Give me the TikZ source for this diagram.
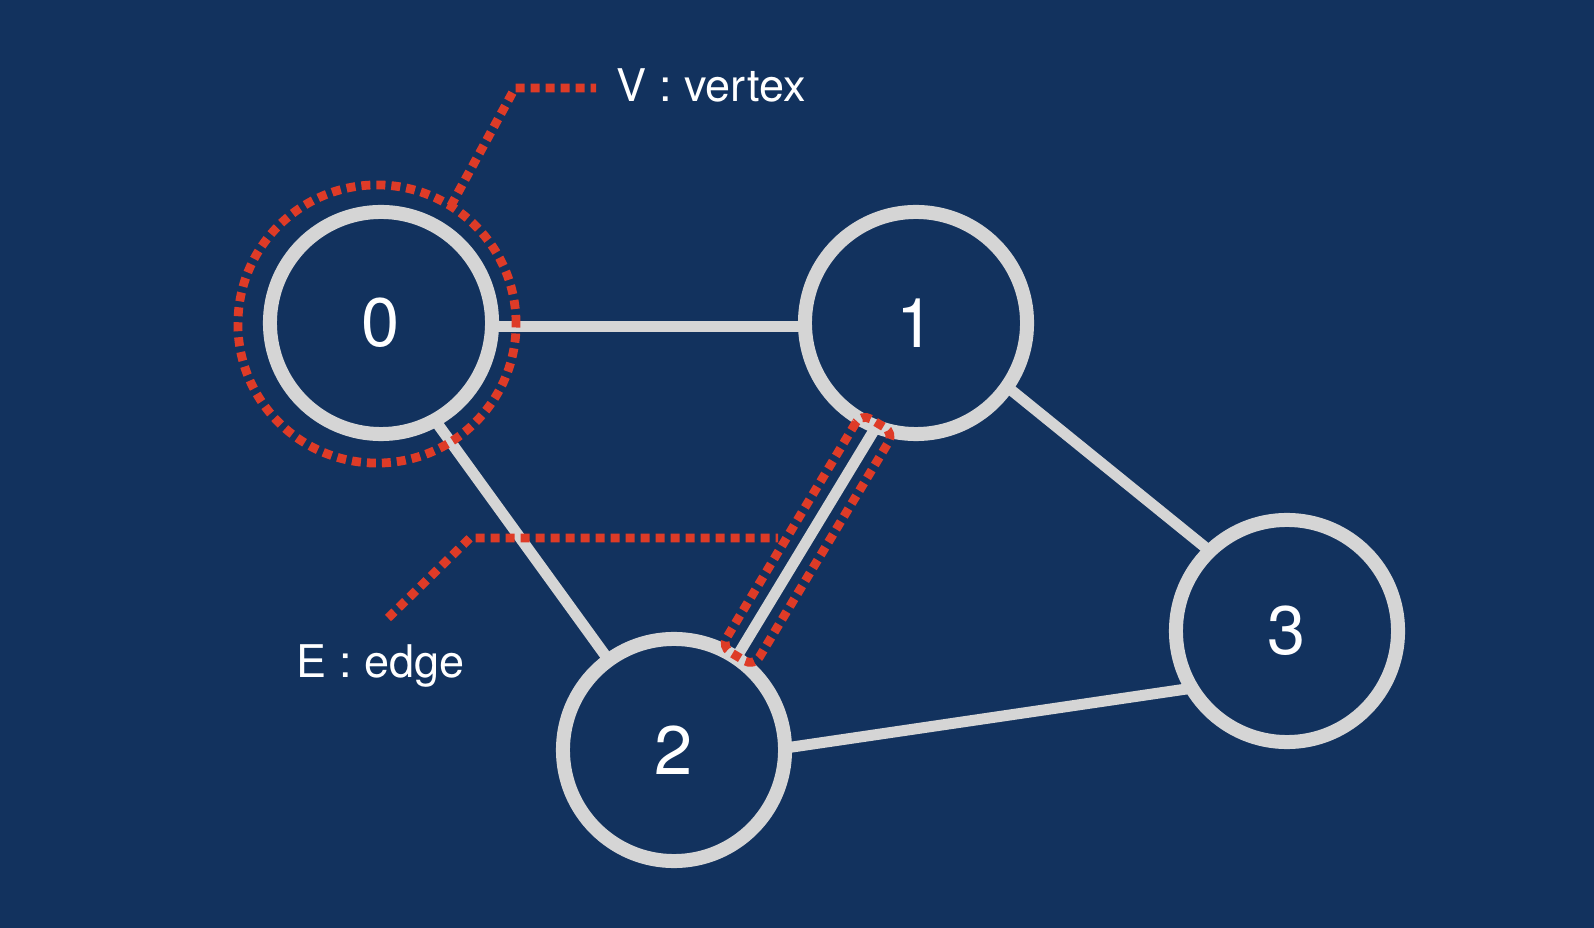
\documentclass[tikz,border=0pt]{standalone}
\usepackage{fontspec}
\setmainfont{TeX Gyre Heros}
\definecolor{bg}{HTML}{12325E}
\definecolor{ring}{HTML}{D5D5D5}
\definecolor{hl}{HTML}{DE3B27}
\pgfdeclarelayer{background}
\pgfsetlayers{background,main}
\begin{document}
\begin{tikzpicture}[x=0.01cm,y=0.01cm,
  vtx/.style={circle, draw=ring, fill=bg, line width=0.14cm, minimum size=2.22cm,
    inner sep=0pt, outer sep=0pt, text=white, font=\fontsize{19.5}{20}\selectfont},
  link/.style={draw=ring, line width=0.11cm},
  hilite/.style={draw=hl, line width=0.088cm, dash pattern=on 0.09cm off 0.06cm},
  lbl/.style={text=white, font=\fontsize{12.8}{14}\selectfont, inner sep=0pt, anchor=base west}]
\useasboundingbox (0,0) rectangle (1594,-928);
\begin{pgfonlayer}{background}
  \fill[bg] (0,0) rectangle (1594,-928);
\end{pgfonlayer}
% vertices
\node[vtx] (n0) at (381,-323) {0};
\node[vtx] (n1) at (916,-323) {1};
\node[vtx] (n2) at (674,-750) {2};
\node[vtx] (n3) at (1287,-631) {3};
% edges
\begin{pgfonlayer}{background}
  \draw[link] (n0.358.3) -- (n0.358.3 -| n1.west);
  \draw[link] (n0.299) -- (n2.126);
  \draw[link] (n1.249) -- (n2.56.6);
  \draw[link] (n1.325.3) -- (n3.134.2);
  \draw[link] (n2.1.6) -- (n3.211.4);
\end{pgfonlayer}
% highlights
\node[hilite, circle, minimum size=2.78cm, inner sep=0pt, outer sep=0pt] (vring) at (377,-324) {};
\node[hilite, rectangle, rounded corners=3pt, minimum width=2.72cm, minimum height=0.38cm,
  inner sep=0pt, outer sep=0pt, rotate=59] (ebox) at (807.6,-539.9) {};
% labels
\node[lbl] (vlab) at (616,-102) {V : vertex};
\node[lbl] (elab) at (296,-678) {E : edge};
% pointers
\coordinate (vbend) at (515,-88);
\coordinate (vend) at (596,-88);
\coordinate (estart) at (388,-618);
\coordinate (ebend) at (470,-538);
\coordinate (eend) at (778,-538);
\draw[hilite] (vring.58) -- (vbend) -- (vend);
\draw[hilite] (estart) -- (ebend) -- (eend);
\end{tikzpicture}
\end{document}
